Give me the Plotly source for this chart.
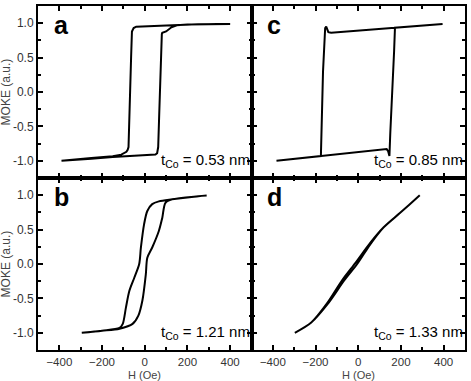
import plotly.graph_objects as go

# Panel a (t_Co = 0.53 nm) – closed hysteresis loop
a_H = [400, 250, 130, 50, -40, -52, -60, -64, -68, -72, -76, -80, -86, -110, -150, -250, -390,
       -250, -150, -50, 50, 58, 63, 68, 72, 76, 80, 82, 100, 125, 150, 200, 300, 400]
a_M = [0.99, 0.985, 0.97, 0.96, 0.95, 0.93, 0.88, 0.5, 0.0, -0.5, -0.8, -0.84, -0.87, -0.91, -0.935, -0.96, -1.0,
       -0.97, -0.945, -0.93, -0.91, -0.89, -0.8, -0.3, 0.2, 0.6, 0.84, 0.86, 0.88, 0.94, 0.97, 0.98, 0.985, 0.99]

# Panel c (t_Co = 0.85 nm)
c_H = [395, 172, -127, -140, -150, -155, -165, -175, -383,
       -175, 133, 140, 146, 150, 160, 168, 172, 395]
c_M = [0.99, 0.935, 0.86, 0.87, 0.95, 0.93, 0.3, -0.93, -1.0,
       -0.93, -0.83, -0.86, -0.93, -0.6, 0.0, 0.6, 0.935, 0.99]

# Panel b (t_Co = 1.21 nm)
b_H = [290, 251, 128, 66, 35, 12, -3, -18, -26, -49, -72, -88, -103, -118, -200, -295,
       -200, -118, -57, -30, -11, 5, 12, 35, 66, 82, 97, 128, 251, 290]
b_M = [0.995, 0.985, 0.94, 0.91, 0.87, 0.77, 0.58, 0.24, 0.0, -0.2, -0.39, -0.63, -0.87, -0.93, -0.97, -1.0,
       -0.97, -0.94, -0.87, -0.75, -0.53, -0.15, 0.09, 0.24, 0.48, 0.67, 0.89, 0.94, 0.985, 0.995]

# Panel d (t_Co = 1.33 nm)
d_H = [-297, -220, -143, -66, -5, 57, 118, 195, 288,
       195, 118, 57, -12, -74, -148, -220, -297]
d_M = [-1.0, -0.85, -0.58, -0.24, 0.0, 0.29, 0.53, 0.74, 1.0,
       0.74, 0.53, 0.31, 0.02, -0.23, -0.58, -0.85, -1.0]

panels = [("a", a_H, a_M, "0.53", "linear"), ("c", c_H, c_M, "0.85", "linear"),
          ("b", b_H, b_M, "1.21", "spline"), ("d", d_H, d_M, "1.33", "spline")]

x_ticks = [-400, -200, 0, 200, 400]
y_ticks = [-1.0, -0.5, 0.0, 0.5, 1.0]

fig = go.Figure()
FONT = "Liberation Sans, Arial, sans-serif"

domains_x = {"a": [0, 0.5], "c": [0.5, 1], "b": [0, 0.5], "d": [0.5, 1]}
domains_y = {"a": [0.5, 1], "c": [0.5, 1], "b": [0, 0.5], "d": [0, 0.5]}

for i, (lab, H, M, t, shape) in enumerate(panels, start=1):
    xa = "x" if i == 1 else f"x{i}"
    ya = "y" if i == 1 else f"y{i}"
    fig.add_trace(go.Scatter(x=H, y=M, mode="lines", xaxis=xa, yaxis=ya,
                             line=dict(color="black", width=2, shape=shape, smoothing=0.8),
                             showlegend=False))
    xkey = "xaxis" if i == 1 else f"xaxis{i}"
    ykey = "yaxis" if i == 1 else f"yaxis{i}"
    fig.layout[xkey] = dict(
        domain=domains_x[lab], anchor=ya, range=[-500, 500],
        tickvals=x_ticks, showticklabels=lab in ("b", "d"),
        ticks="inside", ticklen=5, tickwidth=1.5, tickcolor="black",
        minor=dict(dtick=100, tick0=0, ticks="inside", ticklen=3, tickcolor="black"),
        showline=True, linecolor="black", linewidth=2, mirror="ticks",
        showgrid=False, zeroline=False,
        tickfont=dict(family=FONT, size=11.5, color="#333"))
    fig.layout[ykey] = dict(
        domain=domains_y[lab], anchor=xa, range=[-1.25, 1.25],
        tickvals=y_ticks, ticktext=["-1.0", "-0.5", "0.0", "0.5", "1.0"],
        showticklabels=lab in ("a", "b"),
        ticks="inside", ticklen=5, tickwidth=1.5, tickcolor="black",
        minor=dict(dtick=0.25, tick0=0, ticks="inside", ticklen=3, tickcolor="black"),
        showline=True, linecolor="black", linewidth=2, mirror="ticks",
        showgrid=False, zeroline=False,
        tickfont=dict(family=FONT, size=12, color="#333"))
    fig.add_annotation(text=f"<b>{lab}</b>", xref=f"{xa} domain", yref=f"{ya} domain",
                       x=0.065, y=0.985, xanchor="left", yanchor="top", showarrow=False,
                       font=dict(family=FONT, size=25, color="black"))
    fig.add_annotation(text=f"t<sub>Co</sub> = {t} nm", xref=f"{xa} domain", yref=ya,
                       x=1.0, y=-1.0, xanchor="right", yanchor="middle", showarrow=False,
                       font=dict(family=FONT, size=15, color="black"))

# axis titles
for yc in (0.75, 0.25):
    fig.add_annotation(text="MOKE (a.u.)", xref="paper", yref="paper", x=-0.074, y=yc,
                       textangle=-90, showarrow=False, xanchor="center", yanchor="middle",
                       font=dict(family=FONT, size=12, color="#444"))
for xc in (0.25, 0.75):
    fig.add_annotation(text="H (Oe)", xref="paper", yref="paper", x=xc, y=-0.049,
                       showarrow=False, xanchor="center", yanchor="top",
                       font=dict(family=FONT, size=11, color="#444"))

fig.update_layout(width=471, height=381, margin=dict(l=38, r=4, t=5, b=31),
                  paper_bgcolor="white", plot_bgcolor="white")

fig.write_html("out.html")
